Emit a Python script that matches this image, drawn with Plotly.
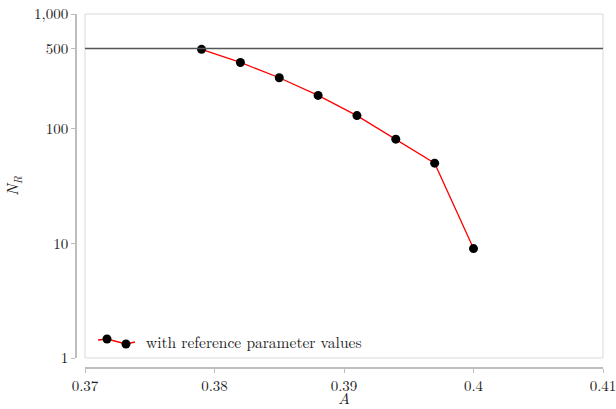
import plotly.graph_objects as go

A_values = [0.379, 0.382, 0.385, 0.388, 0.391, 0.394, 0.397, 0.400]
N_R_values = [492, 378, 278, 195, 130, 81, 50, 9]
threshold = 500
y_tickvals = [1, 10, 100, 500, 1000]
y_ticktext = ["1", "10", "100", "500", "1,000"]
x_tickvals = [0.37, 0.38, 0.39, 0.40, 0.41]
x_ticktext = ["0.37", "0.38", "0.39", "0.4", "0.41"]
legend_label = "with reference parameter values"

FONT = "Latin Modern Roman"
W, H = 616, 409
ML, MR, MT, MB = 76, 13, 14, 41
PW = W - ML - MR
PH = H - MT - MB

def px(X):
    return (X - ML) / PW

def py(Y):
    return (H - MB - Y) / PH

fig = go.Figure()
fig.add_trace(go.Scatter(
    x=A_values, y=N_R_values, mode="lines+markers",
    line=dict(color="#ff0000", width=1.3),
    marker=dict(color="black", size=9),
    showlegend=False, cliponaxis=False,
))

shapes = []
shapes.append(dict(type="rect", xref="x domain", yref="y domain", x0=0, x1=1, y0=0, y1=1,
                   line=dict(color="#d9d9d9", width=1), layer="below"))
shapes.append(dict(type="line", xref="x domain", yref="y", x0=0, x1=1, y0=threshold, y1=threshold,
                   line=dict(color="#555555", width=1.6)))
path = "M {} {} L {} {} L {} {} L {} {}".format(px(98), py(340), px(107), py(339), px(126), py(344), px(135), py(342))
shapes.append(dict(type="path", xref="paper", yref="paper", path=path, line=dict(color="#ff0000", width=1.3)))
for cx, cy in [(107, 339), (126, 344)]:
    shapes.append(dict(type="circle", xref="paper", yref="paper",
                       xsizemode="pixel", ysizemode="pixel", xanchor=px(cx), yanchor=py(cy),
                       x0=-4.5, x1=4.5, y0=-4.5, y1=4.5,
                       fillcolor="black", line=dict(color="black", width=0)))

fig.update_layout(
    width=W, height=H,
    margin=dict(l=ML, r=MR, t=MT, b=MB, autoexpand=False),
    plot_bgcolor="white", paper_bgcolor="white",
    font=dict(family=FONT, size=15, color="#222222"),
    shapes=shapes,
    annotations=[dict(text=legend_label, xref="paper", yref="paper", x=px(144), y=py(341),
                      xanchor="left", yanchor="middle", showarrow=False,
                      font=dict(family=FONT, size=15.5, color="#222222"))],
    xaxis=dict(
        domain=[(85 - ML) / PW, 1], range=[0.3699999, 0.4100001],
        anchor="free", position=0, automargin=False,
        tickvals=x_tickvals, ticktext=x_ticktext, ticklabeloverflow="allow",
        showgrid=False, zeroline=False,
        showline=True, linecolor="#bdbdbd", linewidth=1.5,
        ticks="outside", ticklen=4, tickcolor="#bdbdbd", tickwidth=1,
        title=dict(text="<i>A</i>", standoff=4, font=dict(family=FONT, size=16)),
    ),
    yaxis=dict(
        domain=[10 / PH, 1], type="log", range=[0, 3],
        anchor="free", position=0, automargin=False,
        tickvals=y_tickvals, ticktext=y_ticktext, ticklabeloverflow="allow",
        showgrid=False, zeroline=False,
        showline=True, linecolor="#bdbdbd", linewidth=1.5,
        ticks="outside", ticklen=4, tickcolor="#bdbdbd", tickwidth=1,
        title=dict(text="<i>N</i><sub><i>R</i></sub>", standoff=10, font=dict(family=FONT, size=16)),
    ),
)

fig.write_html("out.html")
